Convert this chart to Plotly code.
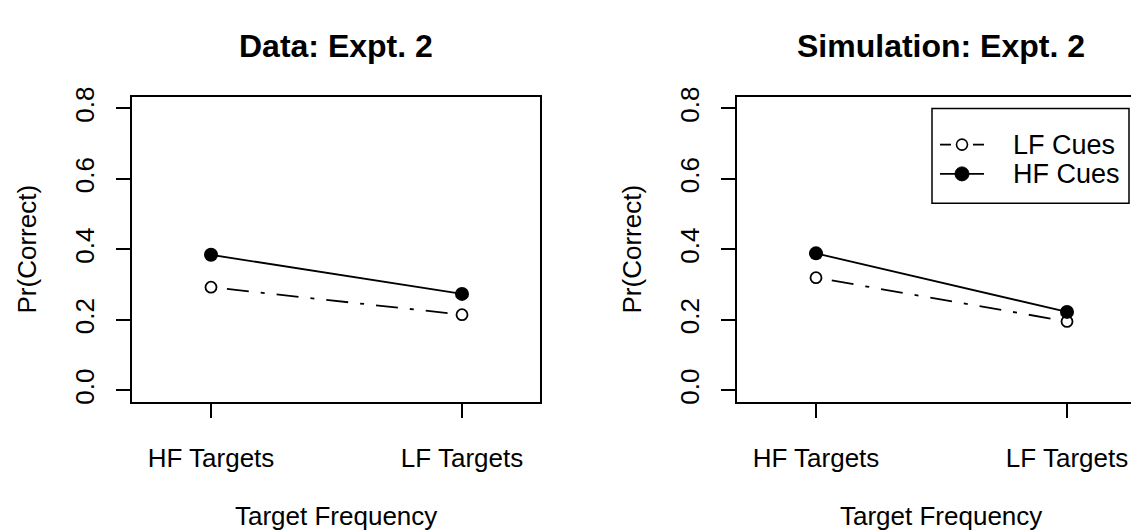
import plotly.graph_objects as go

# ---- data ----
categories = ["HF Targets", "LF Targets"]
y_ticks = [0.0, 0.2, 0.4, 0.6, 0.8]
y_tick_labels = ["0.0", "0.2", "0.4", "0.6", "0.8"]
series_names = ["LF Cues", "HF Cues"]
data_lf_cues = [0.293, 0.215]
data_hf_cues = [0.385, 0.274]
sim_lf_cues = [0.320, 0.196]
sim_hf_cues = [0.389, 0.223]
panel_titles = ["Data: Expt. 2", "Simulation: Expt. 2"]
x_title = "Target Frequency"
y_title = "Pr(Correct)"

W, H = 1131, 531
FONT = "Liberation Sans, Arial, Helvetica, sans-serif"
FS = 26
x_pos = list(range(1, len(categories) + 1))


def px(x):
    return x / W


def py(y):
    return (H - y) / H


fig = go.Figure()

dash_lf = "4px,12px,22px,12px"


def add_panel(lf, hf, xa, ya):
    fig.add_trace(go.Scatter(
        x=x_pos, y=lf, mode="lines+markers", name=series_names[0],
        line=dict(color="black", width=1.8, dash=dash_lf),
        marker=dict(symbol="circle", size=11, color="white",
                    line=dict(color="black", width=1.8)),
        xaxis=xa, yaxis=ya, showlegend=False))
    fig.add_trace(go.Scatter(
        x=x_pos, y=hf, mode="lines+markers", name=series_names[1],
        line=dict(color="black", width=1.8),
        marker=dict(symbol="circle", size=14, color="black"),
        xaxis=xa, yaxis=ya, showlegend=False))


add_panel(data_lf_cues, data_hf_cues, "x", "y")
add_panel(sim_lf_cues, sim_hf_cues, "x2", "y2")

# geometry (pixels)
box_top, box_bot = 89.4, 401.6
L_left, L_right = 132.0, 539.5
R_left = 737.0
unit = 251.0
x_lo = 1 - 79.0 / unit

common_x = dict(
    tickvals=x_pos, ticktext=categories, ticks="outside", ticklen=14,
    tickwidth=1.5, tickcolor="black", showgrid=False, zeroline=False,
    showline=True, linecolor="black", linewidth=2, mirror=True,
    tickfont=dict(family=FONT, size=FS, color="black"),
    ticklabelstandoff=18, fixedrange=True,
)
common_y = dict(
    tickvals=y_ticks, ticktext=y_tick_labels, ticks="outside", ticklen=14,
    tickwidth=1.5, tickcolor="black", showgrid=False, zeroline=False,
    showline=True, linecolor="black", linewidth=2,
    range=[-0.032, 0.832], tickangle=-90,
    tickfont=dict(family=FONT, size=FS, color="black"),
    ticklabelstandoff=12, domain=[py(box_bot), py(box_top)], fixedrange=True,
)

fig.update_layout(
    width=W, height=H,
    margin=dict(l=0, r=0, t=0, b=0),
    paper_bgcolor="white", plot_bgcolor="white",
    showlegend=False,
    xaxis=dict(domain=[px(L_left), px(L_right)], range=[x_lo, x_lo + (L_right - L_left) / unit], anchor="y", **common_x),
    yaxis=dict(anchor="x", mirror=True, **common_y),
    xaxis2=dict(domain=[px(R_left), 1.0], range=[x_lo, x_lo + (W - R_left) / unit], anchor="y2", **common_x),
    yaxis2=dict(anchor="x2", mirror=False, **common_y),
)

ann = []
# titles
L_center = (L_left + L_right) / 2
R_center = R_left + (L_right - L_left) / 2
for t, cx in zip(panel_titles, [L_center, R_center]):
    ann.append(dict(text="<b>" + t + "</b>", x=px(cx), y=py(37), xref="paper", yref="paper",
                    xanchor="center", yanchor="middle", showarrow=False,
                    font=dict(family=FONT, size=32, color="black")))
    ann.append(dict(text=x_title, x=px(cx), y=py(519), xref="paper", yref="paper",
                    xanchor="center", yanchor="middle", showarrow=False,
                    font=dict(family=FONT, size=FS, color="black")))
for cx in [27, R_left - (L_left - 27)]:
    ann.append(dict(text=y_title, x=px(cx), y=py((box_top + box_bot) / 2), xref="paper", yref="paper",
                    xanchor="center", yanchor="middle", textangle=-90, showarrow=False,
                    font=dict(family=FONT, size=FS, color="black")))

# legend (drawn inside right panel)
shapes = []
lg_x0, lg_x1, lg_y0, lg_y1 = 932, 1129, 101, 198
shapes.append(dict(type="rect", xref="paper", yref="paper",
                   x0=px(lg_x0), x1=px(lg_x1), y0=py(lg_y1), y1=py(lg_y0),
                   line=dict(color="black", width=1.5), fillcolor="white", layer="above"))
rows = [138, 168]
sym_cx = 962
for i, (name, ry) in enumerate(zip(series_names, rows)):
    if i == 0:
        for a, b in [(940, 951), (973, 984)]:
            shapes.append(dict(type="line", xref="paper", yref="paper",
                               x0=px(a), x1=px(b), y0=py(ry), y1=py(ry),
                               line=dict(color="black", width=1.8), layer="above"))
        shapes.append(dict(type="circle", xref="paper", yref="paper",
                           xsizemode="pixel", ysizemode="pixel",
                           xanchor=px(sym_cx), yanchor=py(ry),
                           x0=-5.5, x1=5.5, y0=-5.5, y1=5.5,
                           line=dict(color="black", width=1.6), fillcolor="white", layer="above"))
    else:
        shapes.append(dict(type="line", xref="paper", yref="paper",
                           x0=px(940), x1=px(984), y0=py(ry), y1=py(ry),
                           line=dict(color="black", width=1.8), layer="above"))
        shapes.append(dict(type="circle", xref="paper", yref="paper",
                           xsizemode="pixel", ysizemode="pixel",
                           xanchor=px(sym_cx), yanchor=py(ry),
                           x0=-7, x1=7, y0=-7, y1=7,
                           line=dict(color="black", width=1), fillcolor="black", layer="above"))
    ann.append(dict(text=name, x=px(1011), y=py(ry), xref="paper", yref="paper",
                    xanchor="left", yanchor="middle", showarrow=False,
                    font=dict(family=FONT, size=27, color="black")))

fig.update_layout(annotations=ann, shapes=shapes)
fig.write_html("out.html", config={"displayModeBar": False})
